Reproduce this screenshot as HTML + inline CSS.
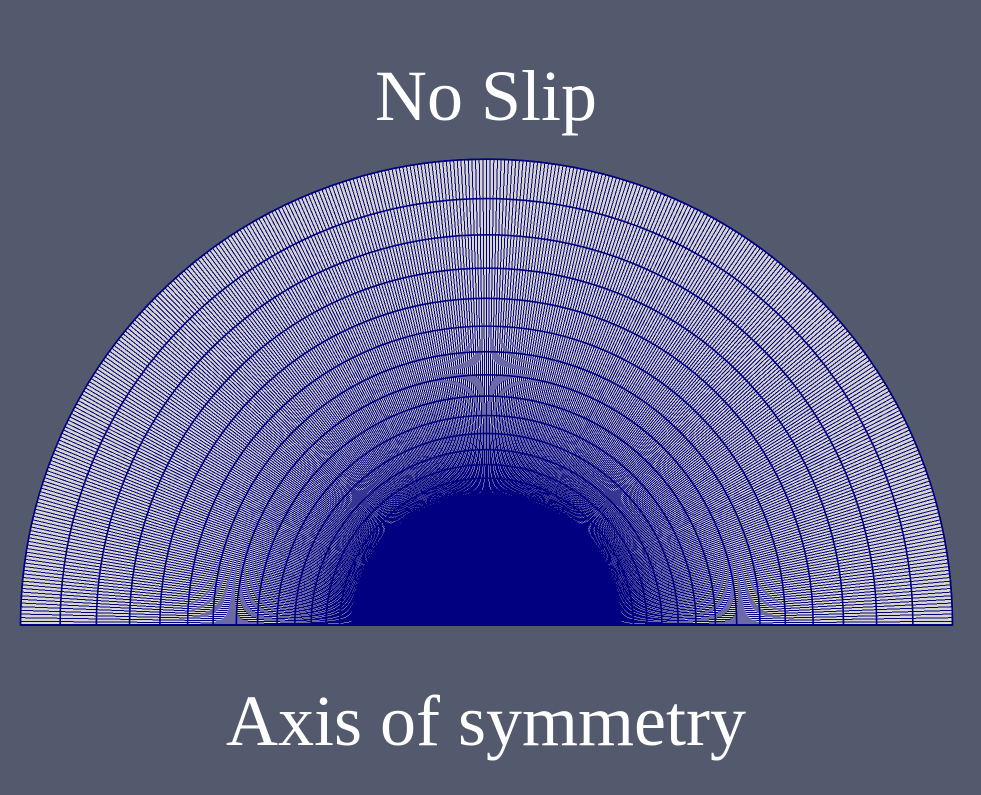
<!DOCTYPE html>
<html><head><meta charset="utf-8"><style>
html,body{margin:0;padding:0;background:#545a6e;}
#wrap{position:relative;width:981px;height:795px;overflow:hidden;background:#545a6e;}
.lbl{position:absolute;left:0;width:972px;text-align:center;color:#fff;font-family:"Liberation Serif",serif;font-size:72px;line-height:1.15;}
</style></head><body>
<div id="wrap">
<div class="lbl" style="top:55px">No Slip</div>
<div class="lbl" style="top:680px">Axis of symmetry</div>
<svg id="svg" width="981" height="795" style="position:absolute;left:0;top:0"></svg>
</div>
<script>
// mesh data
const outerRadius = 466;
const arcRatio = 0.915;
const arcCount = 22;
const radialCount = 400;
const cx = 486.5, cy = 625;
const NS = "http://www.w3.org/2000/svg";
const svg = document.getElementById('svg');
function mk(t, a){const e=document.createElementNS(NS,t);for(const k in a)e.setAttribute(k,a[k]);return e;}
const bg = mk('path',{d:`M${cx-outerRadius},${cy} A${outerRadius},${outerRadius} 0 0 1 ${cx+outerRadius},${cy} Z`,fill:'#d7d5cd',stroke:'#000080','stroke-width':1.5});


svg.appendChild(bg);
const g = mk('g',{stroke:'#000080','stroke-width':1,fill:'none','shape-rendering':'crispEdges'});


svg.appendChild(g);
let d='';
for(let i=0;i<=radialCount;i++){
  const a=Math.PI*i/radialCount;
  const x=cx-Math.cos(a)*outerRadius, y=cy-Math.sin(a)*outerRadius;
  d+=`M${cx.toFixed(2)},${cy} L${x.toFixed(2)},${y.toFixed(2)} `;
}
const rad = mk('path',{d});


g.appendChild(rad);
let r=outerRadius;
for(let k=0;k<arcCount;k++){
  const arc = mk('path',{d:`M${cx-r},${cy} A${r},${r} 0 0 1 ${cx+r},${cy}`,'stroke-width':1.6,'shape-rendering':'auto'});
  
  
  g.appendChild(arc);
  r*=arcRatio;
}
const core = mk('path',{d:`M${cx-135},${cy} A135,132 0 0 1 ${cx+135},${cy} Z`,fill:'#000080',stroke:'none'});


svg.appendChild(core);
const base = mk('line',{x1:cx-outerRadius,y1:cy,x2:cx+outerRadius,y2:cy,stroke:'#000080','stroke-width':2});


svg.appendChild(base);
</script>
</body></html>
